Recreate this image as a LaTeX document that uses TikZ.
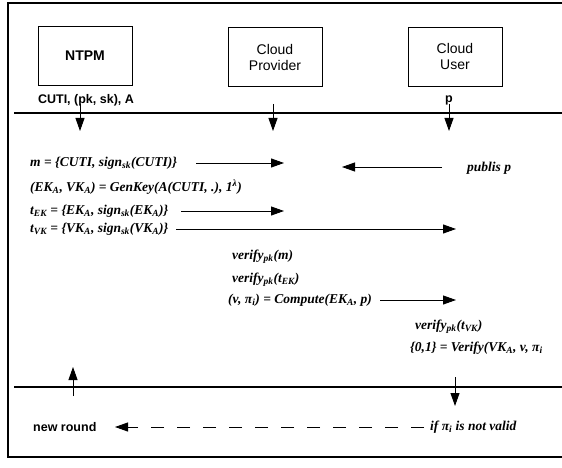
\documentclass[tikz,border=0pt]{standalone}
\usepackage{fontspec}
\setsansfont{Liberation Sans}
\newfontfamily\msgfont{Liberation Serif}
\newcommand{\lowr}[1]{\textsubscript{#1}}
\usetikzlibrary{arrows.meta}
\begin{document}
\begin{tikzpicture}[x=1pt,y=-1pt,
  actor/.style={draw, line width=0.6pt, minimum width=94pt, minimum height=59pt, align=center, inner sep=2pt, font=\sffamily\fontsize{14}{16}\selectfont},
  lab/.style={inner sep=0pt, font=\sffamily\bfseries\fontsize{12.5}{14}\selectfont},
  msg/.style={anchor=west, inner sep=0pt, font=\msgfont\bfseries\itshape\fontsize{13.5}{15.5}\selectfont},
  arr/.style={line width=0.9pt, -{Triangle[length=13pt,width=9pt]}},
  darr/.style={line width=0.9pt, dash pattern=on 13pt off 13pt, -{Triangle[length=13pt,width=9pt]}},
  rule/.style={line width=1.8pt}]
\useasboundingbox (0,0) rectangle (562,468);
\fill[white] (0,0) rectangle (562,468);
% frame
\draw[rule] (563,3) -- (8,3) -- (8,457) -- (563,457);
% actors
\node[actor] (ntpm) at (85,56) {\bfseries NTPM};
\node[actor] (cp) at (275,57) {Cloud\\Provider};
\node[actor] (cu) at (455,56.5) {Cloud\\User};
\node[lab] (init) at (86,100) {CUTI, (pk, sk), A};
\node[lab] (pp) at (449,100) {p};
% top rule
\coordinate (tl) at (14,113);
\coordinate (tr) at (563,113);
\draw[rule] (tl) -- (tr);
\coordinate (d1s) at (80,104); \coordinate (d1e) at (80,131);
\coordinate (d2s) at (273,104); \coordinate (d2e) at (273,131);
\coordinate (d3s) at (449,104); \coordinate (d3e) at (449,131);
\draw[arr] (d1s) -- (d1e);
\draw[arr] (d2s) -- (d2e);
\draw[arr] (d3s) -- (d3e);
% messages
\node[msg] (m1) at (30,163) {m = \{CUTI, sign\lowr{sk}(CUTI)\}};
\node[msg] (m2) at (30,187) {(EK\lowr{A}, VK\lowr{A}) = GenKey(A(CUTI, .), 1\textsuperscript{λ})};
\node[msg] (m3) at (30,211) {t\lowr{EK} = \{EK\lowr{A}, sign\lowr{sk}(EK\lowr{A})\}};
\node[msg] (m4) at (30,229) {t\lowr{VK} = \{VK\lowr{A}, sign\lowr{sk}(VK\lowr{A})\}};
\coordinate (a1s) at (196,163); \coordinate (a1e) at (284,163);
\coordinate (a3s) at (181,211); \coordinate (a3e) at (284,211);
\coordinate (a4s) at (176,229); \coordinate (a4e) at (456,229);
\draw[arr] (a1s) -- (a1e);
\draw[arr] (a3s) -- (a3e);
\draw[arr] (a4s) -- (a4e);
\node[msg] (pub) at (467,168) {publis p};
\coordinate (b1s) at (442,167); \coordinate (b1e) at (342,167);
\draw[arr] (b1s) -- (b1e);
\node[msg] (v1) at (232,257) {verify\lowr{pk}(m)};
\node[msg] (v2) at (232,280) {verify\lowr{pk}(t\lowr{EK})};
\node[msg] (v3) at (228,300) {(v, π\lowr{i}) = Compute(EK\lowr{A}, p)};
\coordinate (c1s) at (380,300); \coordinate (c1e) at (456,300);
\draw[arr] (c1s) -- (c1e);
\node[msg] (v4) at (415,327) {verify\lowr{pk}(t\lowr{VK})};
\node[msg] (v5) at (410,348) {\{0,1\} = Verify(VK\lowr{A}, v, π\lowr{i}};
% bottom rule
\coordinate (bl) at (14,387);
\coordinate (br) at (563,387);
\draw[rule] (bl) -- (br);
\coordinate (u1s) at (73,396); \coordinate (u1e) at (73,367);
\draw[arr] (u1s) -- (u1e);
\coordinate (u2s) at (455,377); \coordinate (u2e) at (455,406);
\draw[arr] (u2s) -- (u2e);
\node[lab, anchor=west] (nr) at (33,427) {new round};
\node[msg] (inv) at (430,427) {if π\lowr{i} is not valid};
\coordinate (e1s) at (424,427); \coordinate (e1e) at (115,427);
\draw[darr] (e1s) -- (e1e);
\end{tikzpicture}
\end{document}
